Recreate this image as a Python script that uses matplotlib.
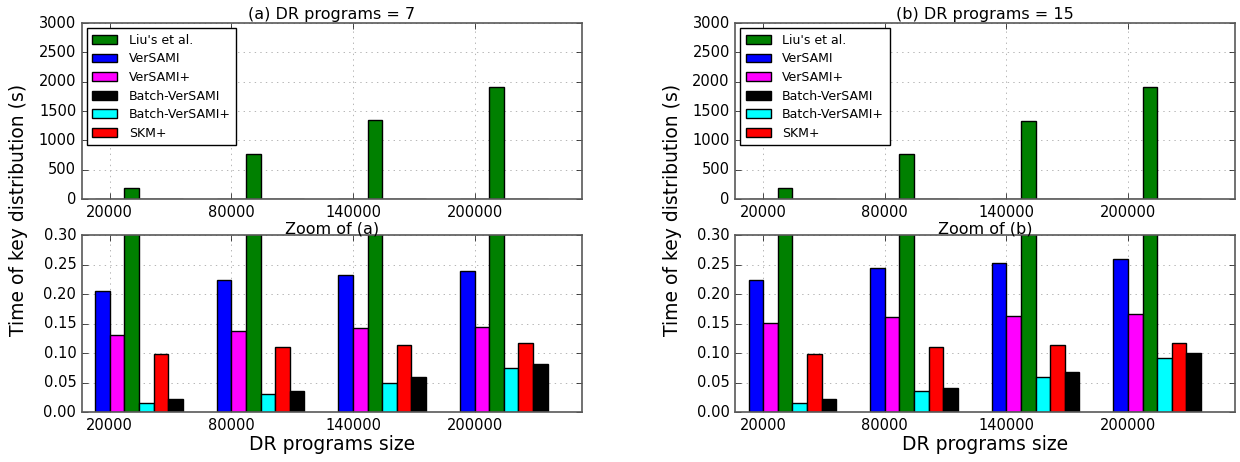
import matplotlib
matplotlib.use("Agg")
import matplotlib.pyplot as plt
import numpy as np

# data
sizes = ["20000", "80000", "140000", "200000"]

liu_a = [190, 770, 1345, 1905]
versami_a = [0.205, 0.224, 0.233, 0.239]
versami_plus_a = [0.130, 0.137, 0.142, 0.145]
batch_versami_a = [0.022, 0.036, 0.060, 0.082]
batch_versami_plus_a = [0.015, 0.030, 0.050, 0.075]
skm_plus_a = [0.098, 0.110, 0.114, 0.118]

liu_b = [190, 770, 1330, 1905]
versami_b = [0.224, 0.244, 0.253, 0.259]
versami_plus_b = [0.151, 0.161, 0.163, 0.166]
batch_versami_b = [0.022, 0.041, 0.068, 0.100]
batch_versami_plus_b = [0.015, 0.035, 0.059, 0.091]
skm_plus_b = [0.098, 0.110, 0.114, 0.118]

plt.style.use("classic")
plt.rcParams["figure.facecolor"] = "white"
plt.rcParams["savefig.facecolor"] = "white"
plt.rcParams["font.family"] = "DejaVu Sans"

ind = np.arange(len(sizes))
width = 0.12


def draw_bars(ax, liu, ver, verp, bver, bverp, skm):
    # bar order left to right: VerSAMI, VerSAMI+, Liu, Batch+, SKM+, Batch
    h = {}
    h["VerSAMI"] = ax.bar(ind - width, ver, width, color="blue", align="edge")
    h["VerSAMI+"] = ax.bar(ind, verp, width, color="magenta", align="edge")
    h["Liu's et al."] = ax.bar(ind + width, liu, width, color="green", align="edge")
    h["Batch-VerSAMI+"] = ax.bar(ind + 2 * width, bverp, width, color="cyan", align="edge")
    h["SKM+"] = ax.bar(ind + 3 * width, skm, width, color="red", align="edge")
    h["Batch-VerSAMI"] = ax.bar(ind + 4 * width, bver, width, color="black", align="edge")
    return h


def style_ax(ax):
    ax.set_xticks(ind)
    ax.set_xticklabels(sizes)
    ax.set_xlim(-0.23, 3.88)
    ax.grid(True, linestyle=":", color="0.6")
    ax.set_axisbelow(True)
    ax.tick_params(labelsize=10.5)
    for s in ax.spines.values():
        s.set_edgecolor("0.35")
        s.set_linewidth(1.2)


fig = plt.figure(figsize=(12.4, 4.62), dpi=100)

panels = [
    (0.066, "(a) DR programs = 7", "Zoom of (a)",
     (liu_a, versami_a, versami_plus_a, batch_versami_a, batch_versami_plus_a, skm_plus_a)),
    (0.593, "(b) DR programs = 15", "Zoom of (b)",
     (liu_b, versami_b, versami_plus_b, batch_versami_b, batch_versami_plus_b, skm_plus_b)),
]

for left, title, ztitle, data in panels:
    ax_top = fig.add_axes([left, 0.569, 0.403, 0.381])
    h = draw_bars(ax_top, *data)
    ax_top.set_ylim(0, 3000)
    ax_top.set_yticks(np.arange(0, 3001, 500))
    style_ax(ax_top)
    ax_top.set_title(title, fontsize=11.5, pad=3)
    order = ["Liu's et al.", "VerSAMI", "VerSAMI+", "Batch-VerSAMI", "Batch-VerSAMI+", "SKM+"]
    ax_top.legend([h[k] for k in order], order, loc="upper left", fontsize=9,
                  labelspacing=0.45, handlelength=2.0, handletextpad=0.9,
                  borderaxespad=0.4, borderpad=0.45)

    ax_bot = fig.add_axes([left, 0.108, 0.403, 0.383])
    draw_bars(ax_bot, *data)
    ax_bot.set_ylim(0, 0.30)
    ax_bot.set_yticks(np.arange(0, 0.301, 0.05))
    ax_bot.yaxis.set_major_formatter(matplotlib.ticker.FormatStrFormatter("%.2f"))
    style_ax(ax_bot)
    ax_bot.set_title(ztitle, fontsize=11.5, pad=1)
    ax_bot.set_xlabel("DR programs size", fontsize=13.5, labelpad=2)

    fig.text(left - 0.051, 0.545, "Time of key distribution (s)", rotation=90,
             fontsize=13.5, ha="center", va="center")

fig.savefig("out.png", dpi=100)
